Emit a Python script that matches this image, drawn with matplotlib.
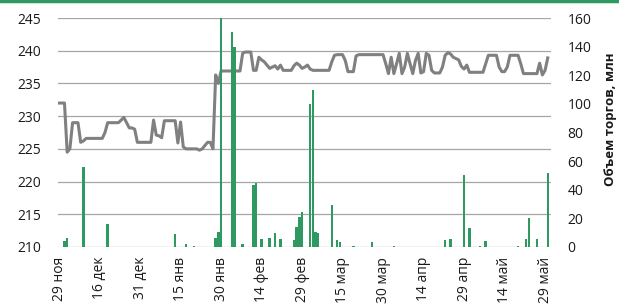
import matplotlib
matplotlib.use('Agg')
import matplotlib.pyplot as plt
import numpy as np

# price line, one value per trading-day slot (left axis)
price = [
    232, 232, 232, 224.5, 225, 229, 229, 229, 226, 226.2,
    226.6, 226.6, 226.6, 226.6, 226.6, 226.6, 226.6, 227.5, 229, 229,
    229, 229, 229, 229.4, 229.8, 229, 228.2, 228.2, 228, 226,
    226, 226, 226, 226, 226, 229.4, 227.1, 227, 226.7, 229.3,
    229.3, 229.3, 229.3, 229.3, 225.9, 229.1, 225.3, 225, 225, 225,
    225, 225, 224.8, 225, 225.5, 226, 226, 225, 236.3, 235,
    236.9, 236.9, 236.9, 236.9, 236.9, 236.9, 236.9, 236.9, 239.6, 239.8,
    239.8, 239.8, 237, 237, 239, 238.6, 238.3, 237.8, 237.3, 237.5,
    237.7, 237.2, 237.8, 237, 237, 237, 237, 237.7, 238.1, 237.8,
    237.3, 237.5, 237.8, 237.2, 237, 237, 237, 237, 237, 237,
    237, 238.3, 239.3, 239.4, 239.4, 239.4, 238.5, 236.8, 236.8, 236.8,
    239.2, 239.4, 239.4, 239.4, 239.4, 239.4, 239.4, 239.4, 239.4, 239.4,
    239.4, 238, 236.5, 239, 236.5, 238, 239.6, 236.5, 237.5, 239.6,
    238, 236.5, 238.5, 239.6, 236.6, 236.8, 239.6, 239.3, 237, 236.6,
    236.6, 236.6, 237.5, 239.3, 239.7, 239.5, 239, 238.8, 238.6, 237.6,
    237.2, 237.8, 236.7, 236.7, 236.7, 236.7, 236.7, 236.7, 238, 239.3,
    239.3, 239.3, 239.3, 237.5, 236.8, 236.8, 237.5, 239.3, 239.3, 239.3,
    239.3, 238, 236.5, 236.5, 236.5, 236.5, 236.5, 236.5, 238.1, 236.3,
    237, 238.9,
]

# trading volume, only non-zero days (right axis)
vol_idx = [2, 3, 9, 18, 43, 47, 50, 58, 59, 60, 64, 65, 68, 72, 73, 75, 78, 80,
           82, 87, 88, 89, 90, 93, 94, 95, 96, 101, 103, 104, 109, 116, 124,
           143, 145, 150, 152, 156, 158, 170, 173, 174, 177, 181]
vol_val = [4, 6, 56, 16, 9, 2, 1, 6, 10.5, 160, 150, 140, 2, 43, 45, 5.5, 6, 10,
           5.5, 5, 14, 21, 24.5, 100, 110, 10.5, 10, 29, 5, 3.5, 1, 3.5, 1,
           5, 5.5, 50, 13, 1, 4, 1, 5.5, 20.5, 5.5, 52]

date_labels = ['29 ноя', '16 дек', '31 дек', '15 янв', '30 янв', '14 фев',
               '29 фев', '15 мар', '30 мар', '14 апр', '29 апр', '14 май',
               '29 май']

plt.rcParams['font.family'] = ['Open Sans', 'DejaVu Sans']

fig = plt.figure(figsize=(6.19, 3.07), dpi=100)
ax1 = fig.add_axes([58/619, 1-247/307, 493/619, 229/307])
ax2 = ax1.twinx()

green = '#2E9A62'
gray = '#808080'

x = np.arange(len(price))
ax1.plot(x, price, color=gray, lw=2.2, solid_joinstyle='round')
ax1.set_ylim(210, 245)
ax1.set_yticks(np.arange(210, 246, 5))
ax1.grid(axis='y', color='#a6a6a6', lw=0.9)
ax1.set_axisbelow(True)

ax2.bar(vol_idx, vol_val, width=0.9, color=green)
ax2.set_ylim(0, 160)
ax2.set_yticks(np.arange(0, 161, 20))

ax1.set_xlim(-0.4, 182.2)
ax1.set_xticks(np.arange(0, 181, 15))
ax1.set_xticklabels(date_labels, rotation=90)

for ax in (ax1, ax2):
    for s in ax.spines.values():
        s.set_visible(False)
    ax.tick_params(length=0, labelsize=10, colors='#1a1a1a')
ax1.tick_params(axis='y', pad=12)
ax1.tick_params(axis='x', pad=7)
ax2.tick_params(axis='y', pad=12)

ax2.set_ylabel('Объем торгов, млн', fontsize=9.5, fontweight='bold', color='#1a1a1a')
ax2.yaxis.set_label_coords(1.108, 0.56)

# green rule along the top edge
fig.add_artist(plt.Line2D([0, 1], [0.997, 0.997], color=green, lw=2.5,
                          transform=fig.transFigure))

fig.savefig('out.png', dpi=100)
